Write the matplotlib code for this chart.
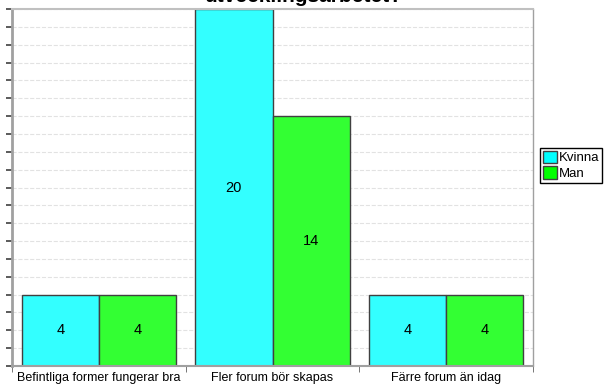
import matplotlib
matplotlib.use('Agg')
import matplotlib.pyplot as plt
import numpy as np
from matplotlib.patches import Patch

categories = ['Befintliga former fungerar bra', 'Fler forum bör skapas', 'Färre forum än idag']
kvinna = [4, 20, 4]
man = [4, 14, 4]
title = 'utvecklingsarbetet?'

fig = plt.figure(figsize=(6.08, 3.85), dpi=100)
ax = fig.add_axes([12 / 608, 19 / 385, 521 / 608, 357 / 385])

x = np.arange(len(categories))
w = 0.445
b1 = ax.bar(x - w / 2, kvinna, w, color='#33FFFF', edgecolor='#404040', linewidth=1, zorder=2)
b2 = ax.bar(x + w / 2, man, w, color='#33FF33', edgecolor='#404040', linewidth=1, zorder=2)

for bars in (b1, b2):
    for rect in bars:
        h = rect.get_height()
        ax.text(rect.get_x() + rect.get_width() / 2, h / 2, str(h),
                ha='center', va='center', fontsize=10.5, family='Liberation Sans', zorder=3)

ax.set_xlim(-0.5, len(categories) - 0.5)
ax.set_ylim(0, 20)
ax.set_yticks(np.arange(0, 21, 1))
ax.set_yticklabels([])
ax.yaxis.grid(True, color='#e2e2e2', linestyle='--', linewidth=0.8, zorder=0)
ax.tick_params(axis='y', length=4, width=1.2, color='#404040')

ax.set_xticks(x)
ax.set_xticklabels(categories, fontsize=9, family='Liberation Sans')
ax.tick_params(axis='x', length=0, pad=4)
ax.set_xticks(np.arange(-0.5, len(categories), 1), minor=True)
ax.tick_params(axis='x', which='minor', length=4, color='#606060')

ax.spines['left'].set_color('#a0a0a0')
ax.spines['left'].set_linewidth(2)
ax.spines['bottom'].set_color('#a0a0a0')
ax.spines['bottom'].set_linewidth(1.5)
ax.spines['top'].set_color('#c0c0c0')
ax.spines['top'].set_linewidth(1.5)
ax.spines['right'].set_color('#a0a0a0')
ax.spines['right'].set_linewidth(1)

handles = [Patch(facecolor='#00FFFF', edgecolor='#404040', label='Kvinna'),
           Patch(facecolor='#00FF00', edgecolor='#404040', label='Man')]
fig.legend(handles=handles, loc='upper left', bbox_to_anchor=(540 / 608, 1 - 148 / 385),
           frameon=True, fancybox=False, edgecolor='black', framealpha=1,
           prop={'family': 'Liberation Sans', 'size': 9.5},
           handlelength=1.1, handleheight=1.1, handletextpad=0.1,
           borderpad=0.2, labelspacing=0.15, borderaxespad=0)

fig.text(304 / 608, 1 - 2 / 385, title, ha='center', va='baseline',
         fontsize=15, fontweight='bold', family='Liberation Sans')

fig.savefig('out.png', dpi=100)
